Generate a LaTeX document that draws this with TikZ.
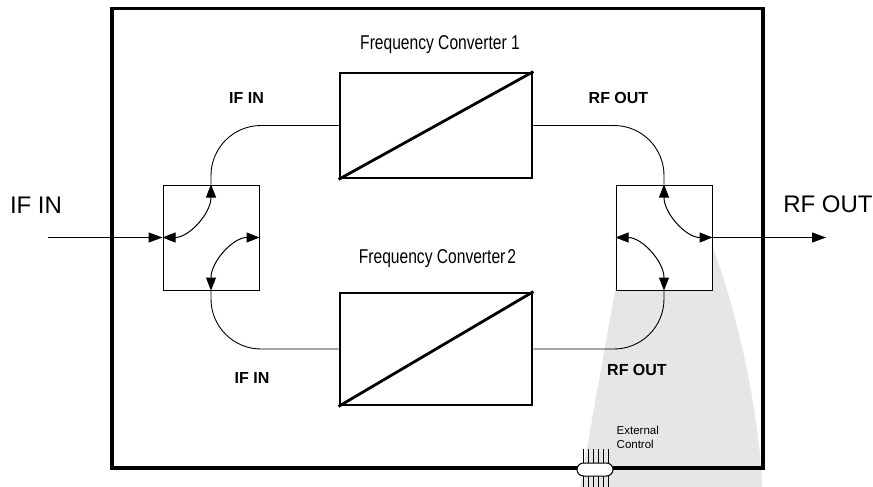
\documentclass[tikz,border=0pt]{standalone}
\usepackage{fontspec}
\setmainfont{Liberation Sans}
\newfontfamily\narrowfont[FakeStretch=0.78]{Liberation Sans}
\usetikzlibrary{arrows.meta}
\definecolor{beamgrey}{HTML}{E6E6E6}
\tikzset{
  frame/.style={draw, line width=3.5pt, minimum width=651pt, minimum height=459.5pt, inner sep=0pt},
  switchbox/.style={draw, line width=1pt, fill=white, minimum width=96pt, minimum height=105pt, inner sep=0pt},
  convbox/.style={draw, line width=2.8pt, fill=white, minimum width=192pt, minimum height=105pt, inner sep=0pt},
  link/.style={line width=0.9pt, rounded corners=50pt},
  tip/.style={line width=1pt, -{Triangle[length=14pt,width=10pt]}},
  biarrow/.style={line width=1pt, {Triangle[length=13pt,width=10pt]}-{Triangle[length=13pt,width=10pt]}},
  biglabel/.style={font=\fontsize{24}{28}\selectfont, inner sep=0pt, anchor=base},
  smalllabel/.style={font=\bfseries\fontsize{16}{19}\selectfont, inner sep=0pt},
  convlabel/.style={font=\narrowfont\fontsize{20}{24}\selectfont, inner sep=0pt, anchor=base},
  ctllabel/.style={font=\fontsize{11.5}{14}\selectfont, inner sep=0pt, align=left, anchor=north west},
  pin/.style={line width=0.8pt},
  pill/.style={draw, line width=1pt, fill=white, rounded corners=6.5pt, minimum width=36pt, minimum height=13pt, inner sep=0pt}
}
\begin{document}
\begin{tikzpicture}[x=1pt,y=-1pt]
\useasboundingbox (0,0) rectangle (873,487);

% grey control beam below the output switch
\fill[beamgrey] (580,487) -- (616,285) .. controls (640,200) and (700,200) .. (713,248)
  .. controls (740,320) and (760,420) .. (762,487) -- cycle;

% housing
\node[frame] (unit) at (437.5,238.25) {};

% switches and converters
\node[switchbox] (sw1) at (211,237.5) {};
\node[switchbox] (sw2) at (664,237.5) {};
\node[convbox] (fc1) at (436,125.5) {};
\node[convbox, minimum height=112pt] (fc2) at (436,349) {};
\draw[line width=2.8pt] (fc1.south west) -- (fc1.north east);
\draw[line width=2.8pt] (fc2.south west) -- (fc2.north east);

% signal paths
\draw[link] (sw1.north) |- (fc1.west);
\draw[link] (sw1.south) |- (fc2.west);
\draw[link] (fc1.east) -| (sw2.north);
\draw[link] (fc2.east) -| (sw2.south);

% switch positions
\draw[biarrow] (sw1.north) .. controls +(0,29) and +(26.5,0) .. (sw1.west);
\draw[biarrow] (sw1.east) .. controls +(-26.5,0) and +(0,-29) .. (sw1.south);
\draw[biarrow] (sw2.north) .. controls +(0,29) and +(-26.5,0) .. (sw2.east);
\draw[biarrow] (sw2.west) .. controls +(26.5,0) and +(0,-29) .. (sw2.south);

% external ports
\coordinate (in) at (48,237.5);
\coordinate (out) at (826,237.5);
\draw[tip] (in) -- (sw1.west);
\draw[tip] (sw2.east) -- (out);

% control connector on the housing wall
\foreach \px in {583,588,593,598,603,608} {
  \draw[pin] (\px,449) -- (\px,487);
}
\node[pill] (ctl) at (595,469.5) {};

% labels
\node[biglabel] (lin) at (36,213) {IF IN};
\node[biglabel] (lout) at (828,212) {RF OUT};
\node[smalllabel] (if1) at (246.5,98) {IF IN};
\node[smalllabel] (rf1) at (618.5,98) {RF OUT};
\node[smalllabel] (if2) at (252,378) {IF IN};
\node[smalllabel] (rf2) at (637,370) {RF OUT};
\node[convlabel] (t1) at (440,49.3) {Frequency Converter 1};
\node[convlabel] (t2) at (437.5,263) {Frequency Converter\hspace{2pt}2};
\node[ctllabel] (tc) at (616.5,425.5) {External\\Control};
\end{tikzpicture}
\end{document}
